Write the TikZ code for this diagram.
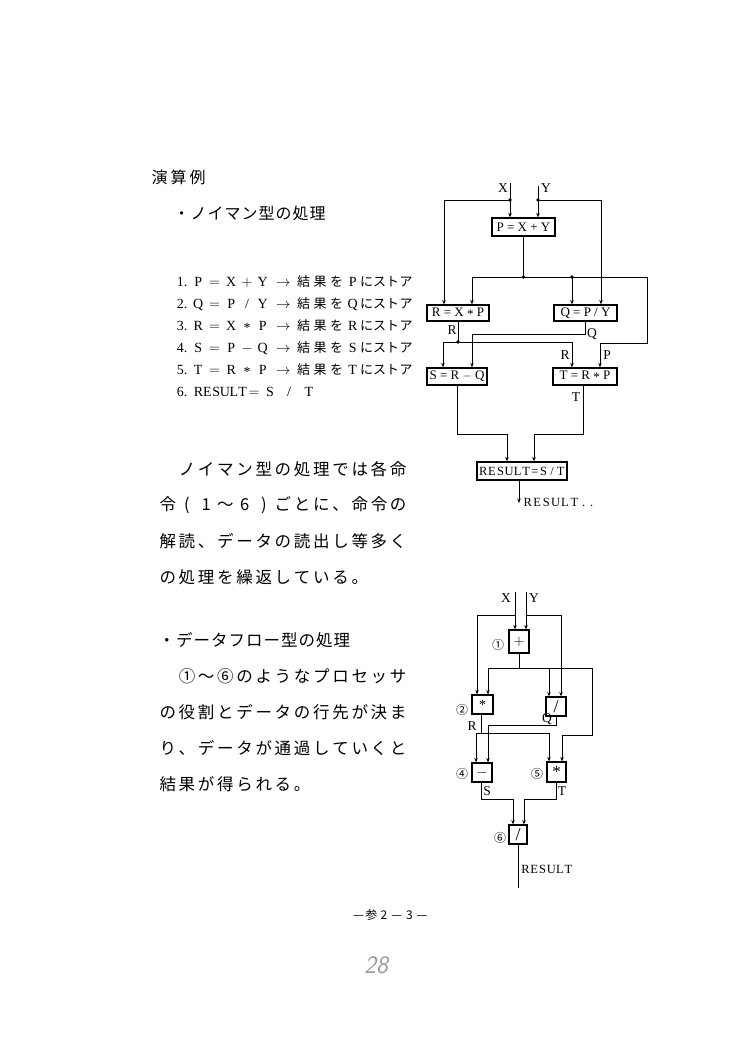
\documentclass[tikz,border=0pt]{standalone}
\usepackage{fontspec}
\setmainfont{Liberation Serif}
\newfontfamily\jp{Noto Sans CJK JP}
\usetikzlibrary{arrows.meta}
\makeatletter
\def\gr@end{\gr@end}
\newcommand\grid[2]{\def\gr@p{#1}\gr@loop#2\gr@end}
\def\gr@loop#1{\ifx\gr@end#1\else\makebox[\gr@p][c]{#1}\expandafter\gr@loop\fi}
\makeatother
\newcommand\fs[1]{\fontsize{#1}{#1}\selectfont}
\newcommand\cl[2]{\makebox[#1pt][c]{#2}}
\newcommand\stx{\raisebox{-0.32ex}{*}}
\newcommand\lline[8]{\node[txt] (#1) at (174,#2) {\fs{14}\cl{16}{#3}\cl{16}{#4}\cl{17}{$=$}\cl{16}{#5}\cl{16}{#6}\cl{15}{#7}\hspace{3pt}\cl{20}{$\rightarrow$}\hspace{2pt}{\jp\fs{13}\cl{17}{結}\cl{16}{果}\cl{17}{を}}\cl{15}{#8}{\jp\fs{13}\cl{13}{に}\cl{13}{ス}\cl{13}{ト}\cl{14}{ア}}};}
\begin{document}
\begin{tikzpicture}[x=1pt,y=-1pt,
  txt/.style={anchor=west,inner sep=0pt},
  para/.style={anchor=west,inner sep=0pt,font=\jp\fs{16.5}},
  box/.style={draw,line width=1.3pt,inner sep=0pt,font=\fs{13}},
  sbox/.style={draw,line width=1.2pt,inner sep=0pt,font=\fs{14}},
  ln/.style={line width=0.7pt},
  arr/.style={ln,-{Stealth[length=4.5pt,width=3.5pt]}},
  dot/.style={circle,fill,inner sep=0pt,minimum size=3.6pt},
  lbl/.style={inner sep=0pt,font=\fs{13.5}},
  cnum/.style={inner sep=0pt,font=\jp\fs{12}}]
\useasboundingbox (0,0) rectangle (750,1054);
\fill[white] (0,0) rectangle (750,1054);

% ---------- left text ----------
\node[txt] (title) at (150,177) {\jp\fs{16}\grid{19pt}{演算例}};
\node[txt] (h1) at (173,213) {\jp\fs{16}\grid{17pt}{・ノイマン型の処理}};

\lline{l1}{282}{1.}{P}{X}{$+$}{Y}{P}
\lline{l2}{304}{2.}{Q}{P}{/}{Y}{Q}
\lline{l3}{326}{3.}{R}{X}{\stx}{P}{R}
\lline{l4}{348}{4.}{S}{P}{$-$}{Q}{S}
\lline{l5}{370}{5.}{T}{R}{\stx}{P}{T}
\node[txt] (l6) at (174,392) {\fs{14}\cl{16}{6.}\hspace{4pt}\grid{8.8pt}{RESULT}\cl{14}{$=$}\cl{18}{S}\cl{20}{/}\cl{20}{T}};

\node[para] (p1) at (158,469) {\grid{19.2pt}{~ノイマン型の処理では各命}};
\node[para] (p2) at (158,505) {\grid{19.2pt}{令(1～6)ごとに、命令の}};
\node[para] (p3) at (158,541) {\grid{19.2pt}{解読、データの読出し等多く}};
\node[para] (p4) at (158,577) {\grid{19.2pt}{の処理を繰返している。}};

\node[para] (q0) at (158,640) {\grid{17.5pt}{・データフロー型の処理}};
\node[para] (q1) at (158,676) {\grid{19.2pt}{~①～⑥のようなプロセッサ}};
\node[para] (q2) at (158,712) {\grid{19.2pt}{の役割とデータの行先が決ま}};
\node[para] (q3) at (158,748) {\grid{19.2pt}{り、データが通過していくと}};
\node[para] (q4) at (158,784) {\grid{19.2pt}{結果が得られる。}};

% ---------- top diagram (von Neumann) ----------
\node[box,minimum width=63pt,minimum height=18pt] (P) at (523.5,227) {P = X + Y};
\node[box,minimum width=62pt,minimum height=16pt] (R) at (458,313) {R = X \stx{} P};
\node[box,minimum width=63pt,minimum height=16pt] (Q) at (585.5,313) {Q = P / Y};
\node[box,minimum width=60pt,minimum height=17pt] (S) at (457,376.5) {S = R $-$ Q};
\node[box,minimum width=64pt,minimum height=17pt] (T) at (585,376.5) {T = R \stx{} P};
\node[box,minimum width=90pt,minimum height=18pt] (RES) at (522,471) {\fs{12.5}\grid{8.6pt}{RESULT=S/T}};

\coordinate (xin) at (510,183);
\coordinate (yin) at (538,186);
\coordinate (xj) at (510,200);
\coordinate (yj) at (538,200);
\coordinate (xl) at (444,200);
\coordinate (yr) at (601,200);
\coordinate (pj) at (523.5,277);
\coordinate (hl) at (472,277);
\coordinate (hr) at (647,277);
\coordinate (qj) at (572,277);
\coordinate (pp1) at (647,343);
\coordinate (pp2) at (600,343);
\coordinate (rj) at (458,342);
\coordinate (rl) at (443,342);
\coordinate (rr) at (572,342);
\coordinate (qo) at (585.5,334);
\coordinate (ql) at (472,334);
\coordinate (s1) at (457,434);
\coordinate (s2) at (507,434);
\coordinate (t1) at (583,434);
\coordinate (t2) at (534,434);
\coordinate (ro) at (519,503);

\draw[arr] (xin) -- (P.north -| xin);
\draw[arr] (yin) -- (P.north -| yin);
\draw[arr] (xj) -- (xl) -- (R.north -| xl);
\draw[arr] (yj) -- (yr) -- (Q.north -| yr);
\draw[ln] (P.south -| pj) -- (pj);
\draw[arr] (pj) -- (hl) -- (R.north -| hl);
\draw[arr] (pj) -- (hr) -- (pp1) -- (pp2) -- (T.north -| pp2);
\draw[arr] (qj) -- (Q.north -| qj);
\draw[ln] (R.south) -- (rj);
\draw[arr] (rj) -- (rl) -- (S.north -| rl);
\draw[arr] (rj) -- (rr) -- (T.north -| rr);
\draw[arr] (Q.south -| qo) -- (qo) -- (ql) -- (S.north -| ql);
\draw[arr] (S.south) -- (s1) -- (s2) -- (RES.north -| s2);
\draw[arr] (T.south -| t1) -- (t1) -- (t2) -- (RES.north -| t2);
\draw[arr] (RES.south -| ro) -- (ro);
\foreach \d in {xj,yj,pj,qj,rj} \node[dot] at (\d) {};

\node[lbl] (lx) at (503,188) {X};
\node[lbl] (ly) at (546,188) {Y};
\node[lbl] (lr1) at (452,330) {R};
\node[lbl] (lq1) at (592,334) {Q};
\node[lbl] (lr2) at (565,355) {R};
\node[lbl] (lp2) at (607,355) {P};
\node[lbl] (lt1) at (576,397) {T};
\node[txt,font=\fs{12.5}] (lres) at (523,502) {\grid{9.3pt}{RESULT}\hspace{3pt}.\hspace{5pt}.};

% ---------- bottom diagram (data flow) ----------
\node[sbox,minimum width=20pt,minimum height=23pt] (B1) at (519,641.5) {$+$};
\node[sbox,minimum width=21pt,minimum height=19pt] (B2) at (482.5,704.5) {\stx};
\node[sbox,minimum width=20pt,minimum height=19pt] (B3) at (556,706.5) {\fs{18}/};
\node[sbox,minimum width=20pt,minimum height=19pt] (B4) at (482,772.5) {$-$};
\node[sbox,minimum width=19pt,minimum height=20pt] (B5) at (556.5,772) {\fs{17}\stx};
\node[sbox,minimum width=18pt,minimum height=19pt] (B6) at (518,834.5) {\fs{18}/};

\coordinate (bx0) at (515,592);
\coordinate (by0) at (526,592);
\coordinate (bxj) at (515,615);
\coordinate (bxl) at (477,615);
\coordinate (byj) at (526,615);
\coordinate (byr) at (561,615);
\coordinate (b1o) at (519,668);
\coordinate (bhl) at (488,668);
\coordinate (bhm) at (549,668);
\coordinate (bhr) at (592,668);
\coordinate (bd1) at (592,735);
\coordinate (bd2) at (562,735);
\coordinate (b2o) at (481,733);
\coordinate (b2l) at (476,733);
\coordinate (b2r) at (549,733);
\coordinate (b3o) at (556,725);
\coordinate (b3l) at (488,725);
\coordinate (b4o) at (481,799);
\coordinate (b4r) at (513,799);
\coordinate (b5o) at (556,799);
\coordinate (b5l) at (524,799);
\coordinate (b6o) at (518,888);

\draw[arr] (bx0) -- (B1.north -| bx0);
\draw[arr] (by0) -- (B1.north -| by0);
\draw[arr] (bxj) -- (bxl) -- (B2.north -| bxl);
\draw[arr] (byj) -- (byr) -- (B3.north -| byr);
\draw[ln] (B1.south) -- (b1o);
\draw[arr] (b1o) -- (bhl) -- (B2.north -| bhl);
\draw[arr] (b1o) -- (bhr) -- (bd1) -- (bd2) -- (B5.north -| bd2);
\draw[arr] (bhm) -- (B3.north -| bhm);
\draw[ln] (B2.south -| b2o) -- (b2o);
\draw[arr] (b2o) -- (b2l) -- (B4.north -| b2l);
\draw[arr] (b2o) -- (b2r) -- (B5.north -| b2r);
\draw[arr] (B3.south) -- (b3o) -- (b3l) -- (B4.north -| b3l);
\draw[arr] (B4.south -| b4o) -- (b4o) -- (b4r) -- (B6.north -| b4r);
\draw[arr] (B5.south -| b5o) -- (b5o) -- (b5l) -- (B6.north -| b5l);
\draw[ln] (B6.south) -- (b6o);

\node[lbl] (bx) at (506,598) {X};
\node[lbl] (by) at (534,598) {Y};
\node[cnum] (c1) at (498,645) {①};
\node[cnum] (c2) at (462,710) {②};
\node[cnum] (c4) at (462,774) {④};
\node[cnum] (c5) at (537,774) {⑤};
\node[cnum] (c6) at (500,838) {⑥};
\node[lbl] (br) at (472,726) {R};
\node[lbl] (bq) at (547,719) {Q};
\node[lbl] (bs) at (487,791) {S};
\node[lbl] (bt) at (562,791) {T};
\node[txt,font=\fs{12.5}] (bres) at (521,869) {\grid{8.6pt}{RESULT}};

% ---------- footer ----------
\node[txt] (foot) at (352,915) {\jp\fs{12}\grid{12.7pt}{—参2—3—}};
\node[inner sep=0pt,text=black!40,font=\sffamily\itshape\fs{25}] (pg) at (376,965) {28};
\end{tikzpicture}
\end{document}
